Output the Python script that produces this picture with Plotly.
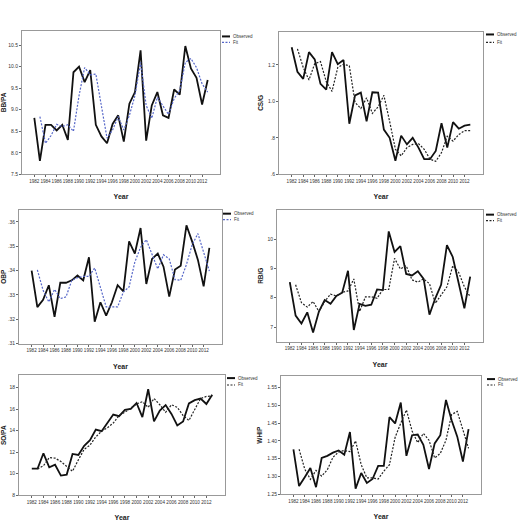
import plotly.graph_objects as go

W, H = 519, 521

years = list(range(1982, 2014))
fit_years = list(range(1983, 2014))
year_ticks = list(range(1982, 2013, 2))

bbpa_obs = [8.81, 7.81, 8.65, 8.65, 8.52, 8.65, 8.30, 9.87, 10.0, 9.64, 9.92, 8.65, 8.38, 8.22, 8.67, 8.87,
            8.26, 9.14, 9.41, 10.38, 8.28, 9.10, 9.41, 8.87, 8.81, 9.47, 9.35, 10.48, 9.96, 9.74, 9.12, 9.69]
bbpa_fit = [8.84, 8.22, 8.40, 8.66, 8.61, 8.65, 8.50, 9.33, 9.98, 9.81, 9.83, 9.10, 8.34, 8.53, 8.84, 8.53,
            8.87, 9.33, 10.10, 9.10, 8.80, 9.29, 9.10, 8.89, 9.26, 9.45, 10.10, 10.19, 9.98, 9.60, 9.41]

csg_obs = [1.297, 1.162, 1.123, 1.27, 1.23, 1.096, 1.064, 1.27, 1.204, 1.227, 0.877, 1.033, 1.048, 0.89, 1.05,
           1.048, 0.845, 0.80, 0.674, 0.812, 0.764, 0.80, 0.746, 0.683, 0.683, 0.728, 0.88, 0.746, 0.886, 0.85,
           0.867, 0.872]
csg_fit = [1.288, 1.186, 1.117, 1.207, 1.218, 1.108, 1.055, 1.186, 1.204, 1.195, 0.994, 0.961, 1.019, 0.934,
           0.97, 1.033, 0.89, 0.737, 0.701, 0.746, 0.764, 0.768, 0.737, 0.683, 0.671, 0.719, 0.809, 0.782,
           0.818, 0.839, 0.839]

obp_obs = [.340, .325, .328, .334, .321, .335, .335, .336, .338, .336, .3455, .319, .327, .3215, .327, .334,
           .3315, .352, .347, .3575, .3345, .3448, .347, .3416, .3293, .3404, .342, .3586, .3519, .3444, .3335,
           .3493]
obp_fit = [.3403, .3319, .3271, .3323, .3285, .3292, .336, .3371, .3376, .3376, .3411, .3326, .3251, .3251,
           .3251, .3312, .3333, .3435, .3496, .3527, .3469, .3407, .3465, .3448, .3363, .336, .3425, .3506,
           .3552, .3475, .3398]

rbg_obs = [8.53, 7.39, 7.12, 7.5, 6.81, 7.53, 7.92, 7.79, 8.06, 8.17, 8.92, 6.9, 7.79, 7.72, 7.76, 8.28, 8.26,
           10.26, 9.56, 9.76, 8.81, 8.76, 8.9, 8.64, 7.42, 7.98, 8.44, 9.79, 9.39, 8.48, 7.64, 8.72]
rbg_fit = [8.44, 7.83, 7.68, 7.87, 7.53, 7.87, 8.12, 8.06, 8.18, 8.23, 8.64, 7.53, 8.03, 8.03, 7.98, 8.28,
           8.28, 9.34, 8.98, 9.09, 8.61, 8.53, 8.64, 8.48, 7.81, 8.09, 8.37, 9.09, 8.87, 8.37, 8.03]

sopa_obs = [10.47, 10.47, 11.9, 10.59, 10.84, 9.83, 9.92, 11.84, 11.75, 12.6, 13.12, 14.1, 13.95, 14.74, 15.5,
            15.35, 15.93, 16.02, 16.57, 15.26, 17.85, 14.86, 15.87, 16.38, 15.56, 14.49, 14.86, 16.54, 16.84,
            16.99, 16.48, 17.33]
sopa_fit = [10.44, 10.74, 11.5, 11.45, 11.14, 10.68, 10.23, 11.29, 12.27, 12.66, 13.43, 13.95, 14.28, 14.71,
            15.41, 15.71, 16.08, 16.48, 16.69, 16.17, 16.99, 16.41, 15.71, 16.41, 16.17, 15.41, 14.95, 16.02,
            16.99, 17.18, 17.24]

whip_obs = [1.3765, 1.273, 1.298, 1.324, 1.270, 1.352, 1.358, 1.367, 1.373, 1.361, 1.425, 1.266, 1.31, 1.282,
            1.293, 1.33, 1.33, 1.467, 1.449, 1.508, 1.358, 1.416, 1.418, 1.389, 1.321, 1.393, 1.416, 1.515,
            1.458, 1.412, 1.342, 1.433]
whip_fit = [1.3765, 1.321, 1.292, 1.317, 1.301, 1.319, 1.354, 1.369, 1.373, 1.37, 1.4, 1.333, 1.296, 1.296,
            1.293, 1.315, 1.333, 1.41, 1.45, 1.487, 1.428, 1.395, 1.421, 1.402, 1.352, 1.365, 1.402, 1.474,
            1.483, 1.43, 1.379]

bbpa_ticks = [7.5, 8.0, 8.5, 9.0, 9.5, 10.0, 10.5]
bbpa_labels = ["7.5", "8.0", "8.5", "9.0", "9.5", "10.0", "10.5"]
csg_ticks = [0.6, 0.8, 1.0, 1.2]
csg_labels = [".6", ".8", "1.0", "1.2"]
obp_ticks = [.31, .32, .33, .34, .35, .36]
obp_labels = [".31", ".32", ".33", ".34", ".35", ".36"]
rbg_ticks = [7, 8, 9, 10]
rbg_labels = ["7", "8", "9", "10"]
sopa_ticks = [8, 10, 12, 14, 16, 18]
sopa_labels = ["8", "10", "12", "14", "16", "18"]
whip_ticks = [1.25, 1.30, 1.35, 1.40, 1.45, 1.50, 1.55]
whip_labels = ["1.25", "1.30", "1.35", "1.40", "1.45", "1.50", "1.55"]

FONT = "Liberation Sans, Arial, sans-serif"
BLUE = "#5566c8"

panels = [
    # name, obs, fit, fitcolor, ticks, labels, yrange, box(px: l, r, t, b), legend(px x, y1, y2)
    ("BB/PA", bbpa_obs, bbpa_fit, BLUE, bbpa_ticks, bbpa_labels, [7.5, 10.84], (22, 220, 31, 177), (222, 37, 43)),
    ("CS/G", csg_obs, csg_fit, "#222222", csg_ticks, csg_labels, [0.6, 1.383], (279, 483, 32, 177), (486, 35, 43)),
    ("OBP", obp_obs, obp_fit, BLUE, obp_ticks, obp_labels, [0.31, 0.365], (19, 222, 213, 349), (223, 217, 223)),
    ("RB/G", rbg_obs, rbg_fit, "#222222", rbg_ticks, rbg_labels, [6.5, 11.0], (277, 483, 213, 347), (486, 218, 224)),
    ("SO/PA", sopa_obs, sopa_fit, "#222222", sopa_ticks, sopa_labels, [8, 19.16], (19, 225, 381, 503), (227, 384, 391)),
    ("WHIP", whip_obs, whip_fit, "#222222", whip_ticks, whip_labels, [1.25, 1.582], (281, 481, 382, 502), (487, 385, 391)),
]

fig = go.Figure()
shapes = []
annotations = []
layout = {}

for i, (name, obs, fit, fcol, ticks, labels, yr, box, leg) in enumerate(panels):
    idx = "" if i == 0 else str(i + 1)
    xa = "x" + idx
    ya = "y" + idx
    l, r, t, b = box
    fig.add_trace(go.Scatter(x=years, y=obs, mode="lines", name="Observed",
                             line=dict(color="#111111", width=1.8), xaxis=xa, yaxis=ya, showlegend=False))
    fig.add_trace(go.Scatter(x=fit_years, y=fit, mode="lines", name="Fit",
                             line=dict(color=fcol, width=1.2, dash="2px,1.5px"), xaxis=xa, yaxis=ya,
                             showlegend=False))
    layout["xaxis" + idx] = dict(
        domain=[l / W, r / W], anchor=ya, range=[1979.8, 2015.2],
        tickvals=year_ticks, ticktext=[str(v) for v in year_ticks], tickangle=0,
        ticks="outside", ticklen=2, tickcolor="#666", tickfont=dict(size=4.6, color="#333", family=FONT),
        showline=True, linecolor="#999", linewidth=1, mirror=True, showgrid=False, zeroline=False,
        title=dict(text="<b>Year</b>", font=dict(size=7, color="#222", family=FONT), standoff=11),
    )
    layout["yaxis" + idx] = dict(
        domain=[1 - b / H, 1 - t / H], anchor=xa, range=yr,
        tickvals=ticks, ticktext=labels,
        ticks="outside", ticklen=2, tickcolor="#666", tickfont=dict(size=5, color="#333", family=FONT),
        showline=True, linecolor="#999", linewidth=1, mirror=True, showgrid=False, zeroline=False,
        title=dict(text="<b>" + name + "</b>", font=dict(size=6.5, color="#222", family=FONT), standoff=3),
    )
    lx, ly1, ly2 = leg
    shapes.append(dict(type="line", xref="paper", yref="paper", x0=lx / W, x1=(lx + 8) / W,
                       y0=1 - ly1 / H, y1=1 - ly1 / H, line=dict(color="#111111", width=2)))
    shapes.append(dict(type="line", xref="paper", yref="paper", x0=lx / W, x1=(lx + 8) / W,
                       y0=1 - ly2 / H, y1=1 - ly2 / H, line=dict(color=fcol, width=1.2, dash="2px,1.5px")))
    annotations.append(dict(text="Observed", xref="paper", yref="paper", x=(lx + 9) / W, y=1 - ly1 / H,
                            xanchor="left", yanchor="middle", showarrow=False,
                            font=dict(size=4.5, color="#333", family=FONT)))
    annotations.append(dict(text="Fit", xref="paper", yref="paper", x=(lx + 9) / W, y=1 - ly2 / H,
                            xanchor="left", yanchor="middle", showarrow=False,
                            font=dict(size=4.5, color="#333", family=FONT)))

fig.update_layout(
    width=W, height=H, margin=dict(l=0, r=0, t=0, b=0),
    paper_bgcolor="white", plot_bgcolor="white",
    font=dict(family=FONT), shapes=shapes, annotations=annotations,
    **layout,
)

fig.write_html("out.html")
